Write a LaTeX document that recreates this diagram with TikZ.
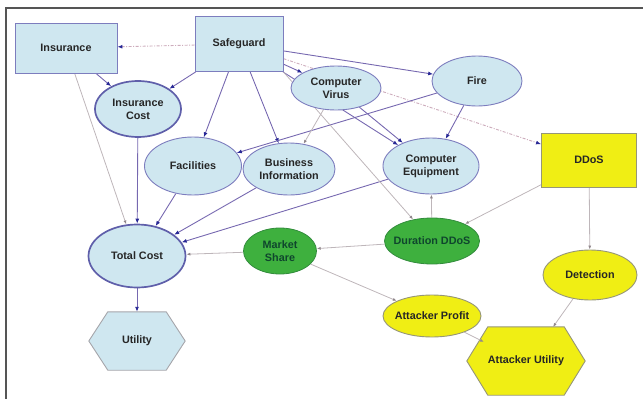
\documentclass[tikz,border=0pt]{standalone}
\usepackage{fontspec}
\setmainfont{Liberation Sans}
\usetikzlibrary{arrows.meta,calc,shapes.geometric}

\definecolor{nodeblue}{RGB}{207,231,240}
\definecolor{borderblue}{RGB}{125,125,190}
\definecolor{thickblue}{RGB}{95,95,170}
\definecolor{nodeyellow}{RGB}{240,238,20}
\definecolor{borderyellow}{RGB}{150,150,120}
\definecolor{nodegreen}{RGB}{62,176,62}
\definecolor{bordergreen}{RGB}{50,140,60}
\definecolor{textgreen}{RGB}{15,70,45}
\definecolor{linkpurple}{RGB}{118,104,176}
\definecolor{tipblue}{RGB}{40,40,150}
\definecolor{linkgrey}{RGB}{190,182,186}
\definecolor{tipgrey}{RGB}{145,135,140}
\definecolor{dotpink}{RGB}{205,172,188}
\definecolor{framegrey}{RGB}{85,85,85}
\definecolor{hexgrey}{RGB}{165,165,170}

\pgfdeclarelayer{links}
\pgfsetlayers{links,main}

% outline of a flat-topped hexagon fitted into a node's box
\newcommand\hexoutline[3]{%
  \path[#3] (#1.west) -- ($(#1.north west)+(#2,0)$) -- ($(#1.north east)+(-#2,0)$)
    -- (#1.east) -- ($(#1.south east)+(-#2,0)$) -- ($(#1.south west)+(#2,0)$) -- cycle;}

\begin{document}
\begin{tikzpicture}[x=1pt,y=-1pt,
  font=\fontsize{10.8}{12.8}\selectfont\bfseries,
  base/.style={inner sep=0pt, align=center, text=black!85},
  boxnode/.style={base, rectangle, draw=borderblue, fill=nodeblue, line width=0.9pt},
  ovalnode/.style={base, ellipse, draw=borderblue, fill=nodeblue, line width=0.9pt},
  heavy/.style={draw=thickblue, line width=1.7pt},
  yboxnode/.style={base, rectangle, draw=borderyellow, fill=nodeyellow, line width=0.9pt},
  yovalnode/.style={base, ellipse, draw=borderyellow, fill=nodeyellow, line width=0.9pt},
  greennode/.style={base, ellipse, draw=bordergreen, fill=nodegreen, line width=0.8pt, text=textgreen},
  hexnode/.style={base, rectangle},
  mainlink/.style={draw=linkpurple, line width=0.9pt, -{Latex[length=5pt,width=4pt,color=tipblue]}},
  faintlink/.style={draw=linkgrey, line width=0.8pt, -{Latex[length=4pt,width=3pt,color=tipgrey]}},
  dotlink/.style={draw=dotpink, line width=0.9pt, dash pattern=on 3pt off 1.5pt on 1pt off 1.5pt,
                  -{Latex[length=5pt,width=4pt,color=tipblue]}}]

\useasboundingbox (0,0) rectangle (643,399);
\draw[framegrey, line width=1.4pt] (6,399) -- (6,8) -- (643,8);

% nodes
\node[boxnode, minimum width=102pt, minimum height=50pt] (ins) at (66,48) {Insurance};
\node[boxnode, minimum width=88pt, minimum height=55pt] (sg) at (239,44) {Safeguard};
\node[ovalnode, heavy, minimum width=86pt, minimum height=56pt] (ic) at (138,109) {Insurance\\Cost};
\node[ovalnode, minimum width=90pt, minimum height=44pt] (cv) at (336,88) {Computer\\Virus};
\node[ovalnode, minimum width=90pt, minimum height=50pt] (fire) at (477,81) {Fire};
\node[ovalnode, minimum width=97pt, minimum height=58pt] (fac) at (193,166) {Facilities};
\node[ovalnode, minimum width=92pt, minimum height=52pt] (bi) at (289,169) {Business\\Information};
\node[ovalnode, minimum width=96pt, minimum height=56pt] (ce) at (431,166) {Computer\\Equipment};
\node[yboxnode, minimum width=95pt, minimum height=54pt] (ddos) at (589,160) {DDoS};
\node[ovalnode, heavy, minimum width=97pt, minimum height=63pt] (tc) at (137,256) {Total Cost};
\node[greennode, minimum width=73pt, minimum height=46pt] (ms) at (280,251) {Market\\Share};
\node[greennode, minimum width=95pt, minimum height=46pt] (dur) at (432,241) {\makebox[60pt]{Duration DDoS}};
\node[yovalnode, minimum width=94pt, minimum height=50pt] (det) at (590,275) {Detection};
\node[yovalnode, minimum width=98pt, minimum height=42pt] (ap) at (432,316) {\makebox[60pt]{Attacker Profit}};
\node[hexnode, minimum width=96pt, minimum height=58pt] (ut) at (137,341) {Utility};
\node[hexnode, minimum width=118pt, minimum height=68pt] (au) at (526,361) {Attacker Utility};

% entry points on the slanted hexagon sides
\coordinate (au-left) at ($(au)+(-42,-19)$);
\coordinate (au-top) at ($(au)+(27,-34)$);

\begin{pgfonlayer}{links}
  \hexoutline{ut}{19pt}{fill=nodeblue, draw=hexgrey, line width=0.9pt}
  \hexoutline{au}{21pt}{fill=nodeyellow, draw=borderyellow, line width=0.9pt}

  % decision links
  \draw[dotlink] (sg) -- (ins);
  \draw[dotlink] (sg) -- (ddos);

  % cost structure
  \draw[mainlink] (ins) -- (ic);
  \draw[mainlink] (sg) -- (ic);
  \draw[mainlink] (sg) -- (fac);
  \draw[mainlink] (sg) -- (bi);
  \draw[mainlink] (sg) -- (cv);
  \draw[mainlink] (sg) -- (fire);
  \draw[mainlink] (sg) -- (ce);
  \draw[mainlink] (cv) -- (ce);
  \draw[mainlink] (fire) -- (fac);
  \draw[mainlink] (fire) -- (ce);
  \draw[mainlink] (ic) -- (tc);
  \draw[mainlink] (fac) -- (tc);
  \draw[mainlink] (bi) -- (tc);
  \draw[mainlink] (ce) -- (tc);
  \draw[mainlink] (tc) -- (ut.north);

  % weaker influences
  \draw[faintlink] (ins) -- (tc);
  \draw[faintlink] (cv) -- (bi);
  \draw[faintlink] (sg.south east) -- (dur);
  \draw[faintlink] (dur) -- (ce);
  \draw[faintlink] (ddos) -- (dur);
  \draw[faintlink] (ddos) -- (det);
  \draw[faintlink] (dur) -- (ms);
  \draw[faintlink] (ms) -- (tc);
  \draw[faintlink] (ms) -- (ap);
  \draw[faintlink] (ap) -- (au-left);
  \draw[faintlink] (det) -- (au-top);
\end{pgfonlayer}
\end{tikzpicture}
\end{document}
